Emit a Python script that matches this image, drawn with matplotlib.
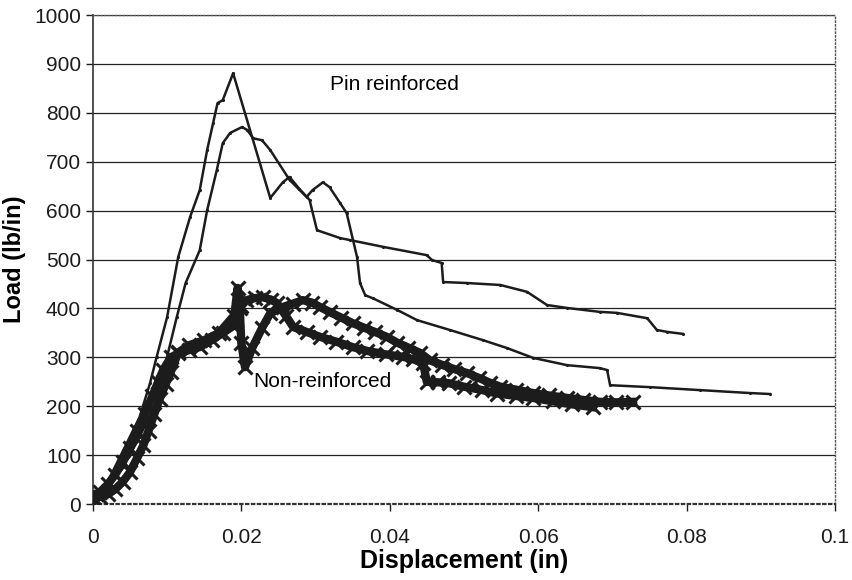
import matplotlib
matplotlib.use("Agg")
import matplotlib.pyplot as plt

plt.rcParams['font.family'] = ['Liberation Sans', 'DejaVu Sans']

# Pin reinforced, specimen A (peak ~880)
pin_a_x = [0, 0.0019, 0.0041, 0.0063, 0.0077, 0.0086, 0.0100, 0.0115, 0.0131, 0.0144,
           0.0154, 0.0162, 0.0168, 0.0175, 0.0189, 0.0239, 0.0256, 0.0265, 0.0278,
           0.0292, 0.0302, 0.0333, 0.0346, 0.0391, 0.0450, 0.0457, 0.0470, 0.0472,
           0.0504, 0.0549, 0.0585, 0.0612, 0.0639, 0.0683, 0.0706, 0.0747, 0.0760,
           0.0774, 0.0795]
pin_a_y = [14, 43, 110, 178, 247, 301, 382, 505, 587, 642,
           724, 779, 820, 826, 881, 626, 658, 669, 645,
           622, 560, 544, 540, 526, 509, 499, 493, 454,
           452, 448, 434, 407, 401, 393, 391, 380, 356,
           352, 348]

# Pin reinforced, specimen B (peak ~770)
pin_b_x = [0, 0.0014, 0.0041, 0.0063, 0.0086, 0.0100, 0.0113, 0.0125, 0.0144, 0.0154,
           0.0167, 0.0175, 0.0185, 0.0201, 0.0208, 0.0216, 0.0228, 0.0239, 0.0265,
           0.0288, 0.0296, 0.0310, 0.0319, 0.0333, 0.0342, 0.0356, 0.0360, 0.0367,
           0.0377, 0.0410, 0.0437, 0.0481, 0.0526, 0.0558, 0.0593, 0.0639, 0.0683,
           0.0693, 0.0697, 0.0751, 0.0818, 0.0885, 0.0912]
pin_b_y = [12, 22, 76, 137, 213, 301, 382, 452, 519, 601,
           683, 738, 759, 771, 765, 748, 744, 724, 663,
           628, 642, 658, 648, 616, 595, 505, 452, 427,
           421, 397, 376, 356, 335, 319, 299, 284, 278,
           274, 243, 239, 233, 227, 225]

# Non-reinforced, specimen 1 (spike ~440)
nr1_x = [0, 0.0010, 0.0020, 0.0030, 0.0040, 0.0050, 0.0060, 0.0070, 0.0080, 0.0088,
         0.0095, 0.0105, 0.0115, 0.0130, 0.0144, 0.0160, 0.0175, 0.0189, 0.0195,
         0.0198, 0.0200, 0.0205, 0.0215, 0.0228, 0.0239, 0.0256, 0.0270, 0.0283,
         0.0295, 0.0306, 0.0320, 0.0335, 0.0350, 0.0365, 0.0380, 0.0396, 0.0410,
         0.0425, 0.0441, 0.0454, 0.0470, 0.0487, 0.0504, 0.0520, 0.0535, 0.0549,
         0.0570, 0.0593, 0.0615, 0.0639, 0.0660, 0.0683, 0.0705, 0.0728]
nr1_y = [14, 25, 40, 60, 85, 115, 150, 185, 220, 250,
         275, 300, 308, 315, 321, 335, 350, 364, 442,
         400, 330, 280, 320, 360, 390, 403, 410, 417,
         412, 403, 392, 381, 370, 361, 352, 342, 330,
         320, 309, 294, 285, 276, 268, 258, 248, 240,
         234, 227, 222, 217, 213, 209, 208, 209]

# Non-reinforced, specimen 2 (peak ~425)
nr2_x = [0, 0.0010, 0.0020, 0.0030, 0.0040, 0.0050, 0.0060, 0.0068, 0.0075, 0.0083,
         0.0090, 0.0098, 0.0105, 0.0115, 0.0130, 0.0150, 0.0170, 0.0190, 0.0200,
         0.0207, 0.0218, 0.0229, 0.0240, 0.0248, 0.0260, 0.0270, 0.0288, 0.0306,
         0.0328, 0.0350, 0.0370, 0.0395, 0.0418, 0.0432, 0.0445, 0.0450, 0.0465,
         0.0480, 0.0500, 0.0525, 0.0545, 0.0570, 0.0593, 0.0620, 0.0645, 0.0674]
nr2_y = [10, 15, 20, 30, 45, 65, 95, 120, 150, 185,
         215, 245, 270, 310, 325, 335, 350, 385, 405,
         417, 421, 423, 418, 411, 385, 362, 352, 342,
         332, 321, 313, 306, 301, 296, 288, 250, 249,
         247, 240, 233, 226, 221, 217, 210, 204, 198]

x_ticks = [0, 0.02, 0.04, 0.06, 0.08, 0.1]
x_tick_labels = ['0', '0.02', '0.04', '0.06', '0.08', '0.1']
y_ticks = list(range(0, 1001, 100))

fig = plt.figure(figsize=(8.52, 5.80), dpi=100)
ax = fig.add_axes([0.109, 0.131, 0.871, 0.843])

ink = '#1c1c1c'
# non-reinforced: thick bands of x markers
for xs, ys in [(nr1_x, nr1_y), (nr2_x, nr2_y)]:
    ax.plot(xs, ys, color=ink, lw=6, marker='x', ms=10, mew=2.2, zorder=3)
# pin reinforced: thin jagged lines
for xs, ys in [(pin_a_x, pin_a_y), (pin_b_x, pin_b_y)]:
    ax.plot(xs, ys, color=ink, lw=1.8, marker='.', ms=2.5, zorder=4)

ax.set_xlim(0, 0.1)
ax.set_ylim(0, 1000)
ax.set_xticks(x_ticks)
ax.set_xticklabels(x_tick_labels)
ax.set_yticks(y_ticks)
ax.tick_params(axis='both', labelsize=15, direction='out', length=5, width=1, colors=ink)
ax.tick_params(axis='x', pad=12)
ax.grid(axis='y', color='#222222', lw=0.9)
ax.set_axisbelow(True)

for side in ['top', 'right']:
    ax.spines[side].set_linestyle(':')
    ax.spines[side].set_color('#555555')
    ax.spines[side].set_linewidth(1.0)
ax.spines['bottom'].set_linestyle(':')
ax.spines['bottom'].set_linewidth(1.6)
ax.spines['bottom'].set_color('#333333')
ax.spines['left'].set_linewidth(1.2)
ax.spines['left'].set_color('#333333')

ax.set_xlabel('Displacement (in)', fontsize=18, fontweight='bold', labelpad=2)
ax.set_ylabel('Load (lb/in)', fontsize=17, fontweight='bold', labelpad=6)

ax.text(0.032, 857, 'Pin reinforced', fontsize=15, ha='left', va='center')
ax.text(0.0216, 250, 'Non-reinforced', fontsize=15, ha='left', va='center')

fig.savefig('out.png', dpi=100)
